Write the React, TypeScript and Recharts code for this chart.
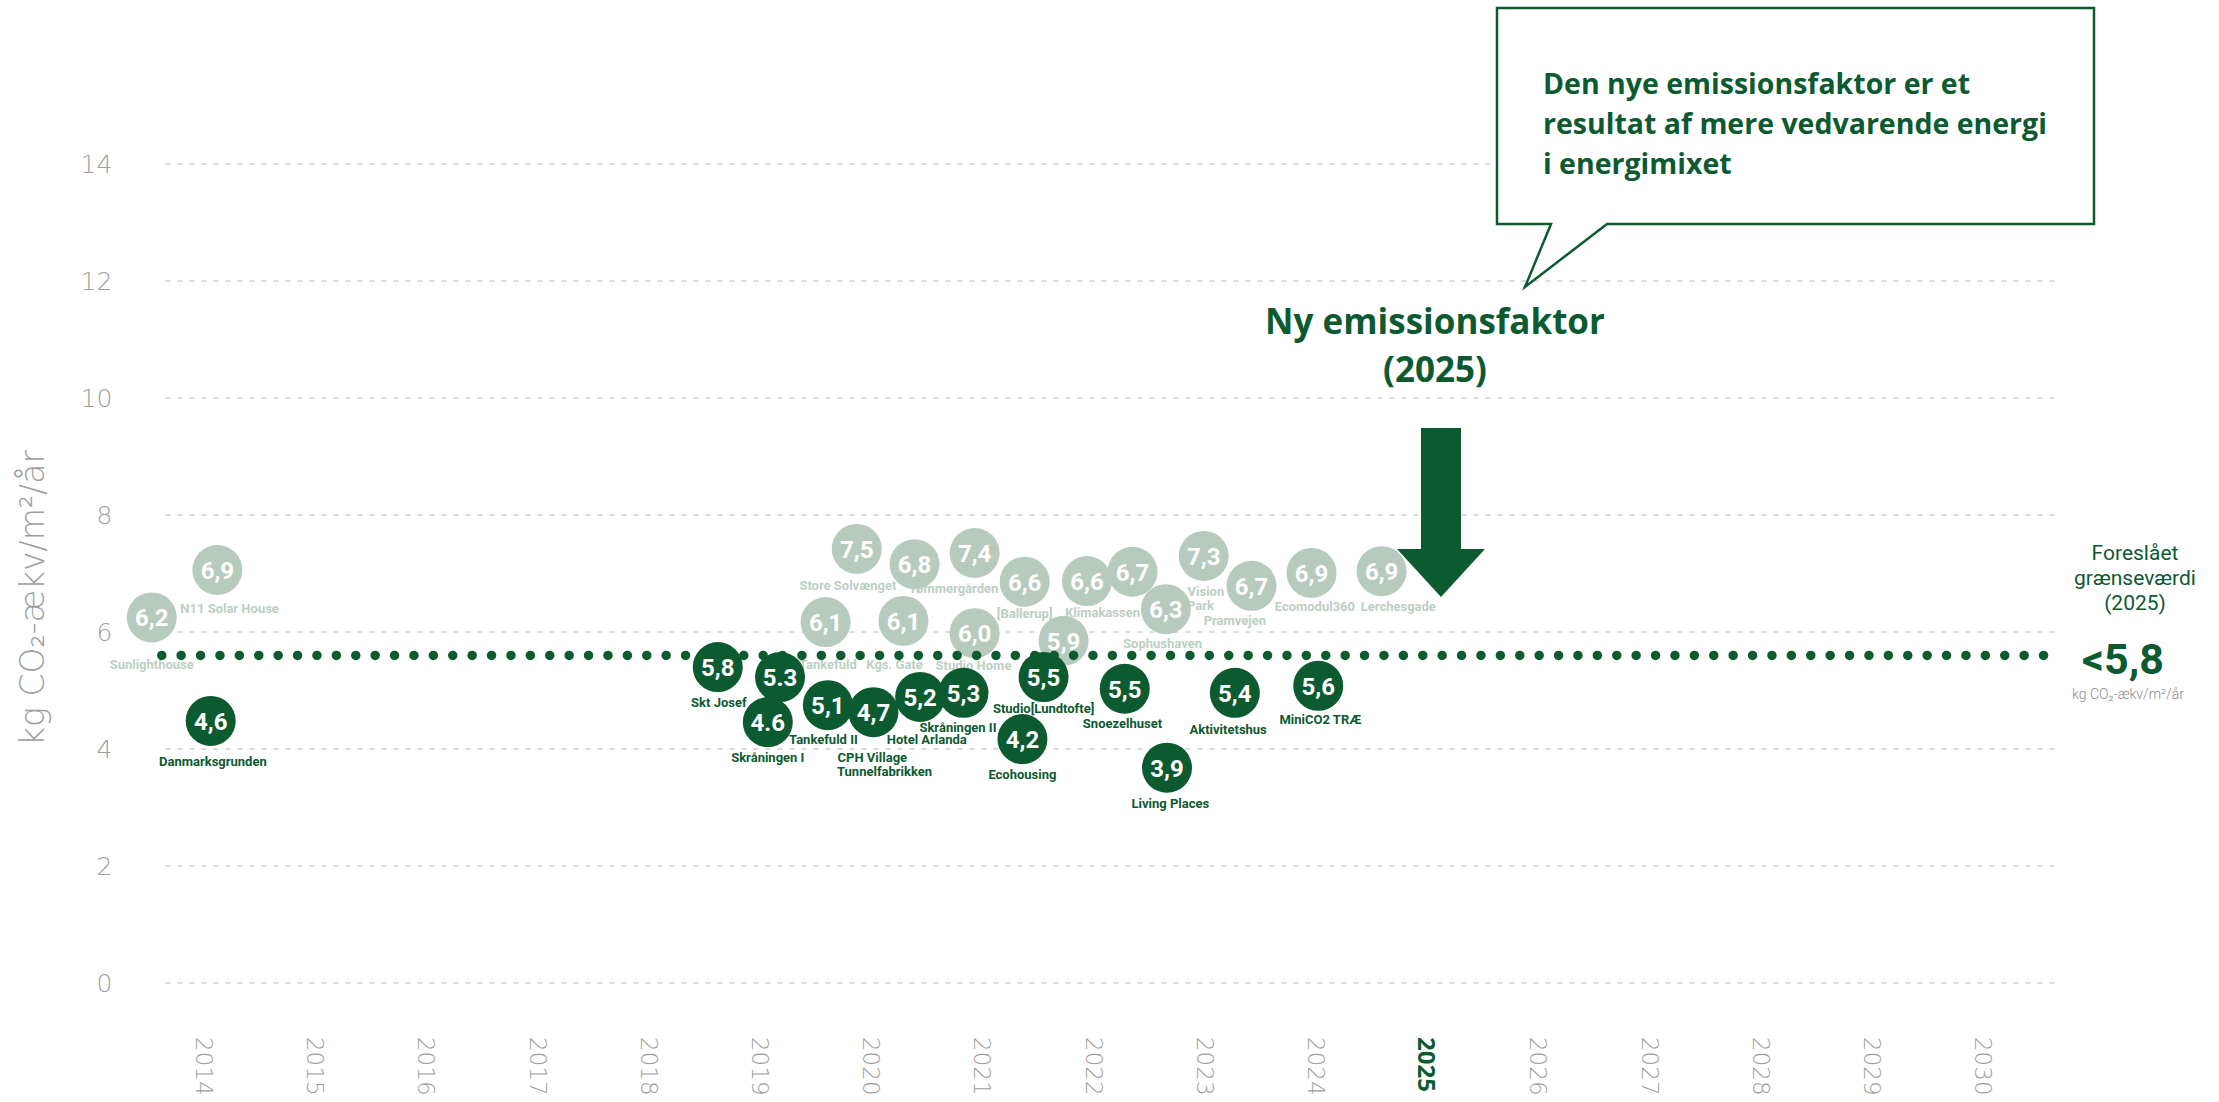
import React from 'react';
import { ScatterChart, Scatter, XAxis, YAxis, CartesianGrid } from 'recharts';

// ---------- data ----------
const years = [2014, 2015, 2016, 2017, 2018, 2019, 2020, 2021, 2022, 2023, 2024, 2025, 2026, 2027, 2028, 2029, 2030];
const yTicks = [0, 2, 4, 6, 8, 10, 12, 14];
const highlightYear = 2025;

// projects above the proposed limit (pale circles): printed value + plotted position
const lightProjects = [
  { shown: '6,2', x: 2013.53, y: 6.25 },
  { shown: '6,9', x: 2014.12, y: 7.06 },
  { shown: '7,5', x: 2019.87, y: 7.42 },
  { shown: '6,8', x: 2020.39, y: 7.16 },
  { shown: '7,4', x: 2020.93, y: 7.35 },
  { shown: '6,1', x: 2019.59, y: 6.17 },
  { shown: '6,1', x: 2020.29, y: 6.19 },
  { shown: '6,0', x: 2020.93, y: 5.98 },
  { shown: '6,6', x: 2021.38, y: 6.86 },
  { shown: '5,9', x: 2021.73, y: 5.85 },
  { shown: '6,6', x: 2021.94, y: 6.87 },
  { shown: '6,7', x: 2022.35, y: 7.03 },
  { shown: '6,3', x: 2022.65, y: 6.39 },
  { shown: '7,3', x: 2022.99, y: 7.3 },
  { shown: '6,7', x: 2023.42, y: 6.79 },
  { shown: '6,9', x: 2023.96, y: 7.01 },
  { shown: '6,9', x: 2024.59, y: 7.04 },
];

const lightLabels = [
  { text: 'Sunlighthouse', x: 2013.53, y: 5.45 },
  { text: 'N11 Solar House', x: 2014.23, y: 6.41 },
  { text: 'Store Solvænget', x: 2019.79, y: 6.8 },
  { text: 'Tømmergården', x: 2020.74, y: 6.74 },
  { text: 'Tankefuld', x: 2019.61, y: 5.45 },
  { text: 'Kgs. Gate', x: 2020.21, y: 5.45 },
  { text: 'Studio Home', x: 2020.92, y: 5.42 },
  { text: '[Ballerup]', x: 2021.38, y: 6.31 },
  { text: 'Klimakassen', x: 2022.08, y: 6.33 },
  { text: 'Sophushaven', x: 2022.62, y: 5.8 },
  { text: 'Vision', x: 2023.01, y: 6.7 },
  { text: 'Park', x: 2022.96, y: 6.46 },
  { text: 'Pramvejen', x: 2023.27, y: 6.19 },
  { text: 'Ecomodul360', x: 2023.99, y: 6.44 },
  { text: 'Lerchesgade', x: 2024.74, y: 6.44 },
];

// projects below the proposed limit (dark circles)
const darkProjects = [
  { shown: '4,6', x: 2014.06, y: 4.48 },
  { shown: '5,8', x: 2018.62, y: 5.4 },
  { shown: '5.3', x: 2019.18, y: 5.23 },
  { shown: '4.6', x: 2019.07, y: 4.46 },
  { shown: '5,1', x: 2019.61, y: 4.75 },
  { shown: '4,7', x: 2020.02, y: 4.63 },
  { shown: '5,2', x: 2020.44, y: 4.89 },
  { shown: '5,3', x: 2020.83, y: 4.96 },
  { shown: '5,5', x: 2021.55, y: 5.23 },
  { shown: '4,2', x: 2021.36, y: 4.17 },
  { shown: '5,5', x: 2022.28, y: 5.03 },
  { shown: '3,9', x: 2022.66, y: 3.68 },
  { shown: '5,4', x: 2023.27, y: 4.96 },
  { shown: '5,6', x: 2024.02, y: 5.08 },
];

const darkLabels = [
  { text: 'Danmarksgrunden', x: 2014.08, y: 3.78 },
  { text: 'Skt Josef', x: 2018.63, y: 4.8 },
  { text: 'Skråningen I', x: 2019.07, y: 3.85 },
  { text: 'Tankefuld II', x: 2019.57, y: 4.17 },
  { text: 'CPH Village', x: 2020.01, y: 3.86 },
  { text: 'Tunnelfabrikken', x: 2020.12, y: 3.62 },
  { text: 'Hotel Arlanda', x: 2020.5, y: 4.17 },
  { text: 'Skråningen II', x: 2020.78, y: 4.36 },
  { text: 'Studio[Lundtofte]', x: 2021.55, y: 4.7 },
  { text: 'Ecohousing', x: 2021.36, y: 3.56 },
  { text: 'Snoezelhuset', x: 2022.26, y: 4.43 },
  { text: 'Living Places', x: 2022.69, y: 3.06 },
  { text: 'Aktivitetshus', x: 2023.21, y: 4.34 },
  { text: 'MiniCO2 TRÆ', x: 2024.04, y: 4.5 },
];

// proposed limit line (drawn position) and its printed value
const limitLine = [
  { x: 2013.62, y: 5.6 },
  { x: 2030.71, y: 5.6 },
];
const limitText = '<5,8';

const yAxisTitle = 'kg CO₂-ækv/m²/år';
const calloutLines = ['Den nye emissionsfaktor er et', 'resultat af mere vedvarende energi', 'i energimixet'];
const arrowTitle = ['Ny emissionsfaktor', '(2025)'];
const limitTitle = ['Foreslået', 'grænseværdi', '(2025)'];

// ---------- styling ----------
const GREEN = '#0c5a30';
const PALE = '#b6cbbe';
const PALE_TEXT = '#bccfc3';
const GREY = '#9d9d9d';
const GRID = '#cfcfcf';
const FONT = "Roboto, 'Open Sans', Arial, sans-serif";
const HEAD_FONT = "'Open Sans', Roboto, Arial, sans-serif";
const THIN_FONT = "'DejaVu Sans', 'Open Sans', sans-serif";

const W = 2219;
const H = 1102;

const bubble = (fill: string) => (props: any) => {
  const { cx, cy, payload } = props;
  if (cx == null || cy == null) return <g />;
  return (
    <g>
      <circle cx={cx} cy={cy} r={25} fill={fill} />
      <text
        x={cx}
        y={cy + 1}
        textAnchor="middle"
        dominantBaseline="central"
        fill="#ffffff"
        fontSize={24}
        fontWeight={700}
        fontFamily={FONT}
      >
        {payload.shown}
      </text>
    </g>
  );
};

const labelShape = (color: string) => (props: any) => {
  const { cx, cy, payload } = props;
  if (cx == null || cy == null) return <g />;
  return (
    <text
      x={cx}
      y={cy}
      textAnchor="middle"
      dominantBaseline="central"
      fill={color}
      fontSize={13}
      fontWeight={700}
      fontFamily={FONT}
    >
      {payload.text}
    </text>
  );
};

const noShape = () => <g />;

const XTick = (props: any) => {
  const { x, y, payload } = props;
  const hl = payload.value === highlightYear;
  const ty = y + 54;
  return (
    <text
      x={x}
      y={ty}
      transform={`rotate(90, ${x}, ${ty})`}
      textAnchor="start"
      dominantBaseline="central"
      fontSize={hl ? 24 : 23}
      fontWeight={hl ? 700 : 200}
      fill={hl ? GREEN : GREY}
      fontFamily={hl ? HEAD_FONT : THIN_FONT}
    >
      {payload.value}
    </text>
  );
};

const YTick = (props: any) => {
  const { x, y, payload } = props;
  return (
    <text
      x={x}
      y={y}
      textAnchor="end"
      dominantBaseline="central"
      fontSize={25}
      fontWeight={200}
      fill={GREY}
      fontFamily={THIN_FONT}
    >
      {payload.value}
    </text>
  );
};

const GRID_LEFT_INSET = 28;
const GRID_RIGHT_INSET = 34;

const gridLine = (props: any) => {
  const { x1, x2, y1, y2, index } = props;
  return (
    <line
      key={`g-${index}-${y1}`}
      x1={x1 + GRID_LEFT_INSET}
      x2={x2 - GRID_RIGHT_INSET}
      y1={y1}
      y2={y2}
      stroke={GRID}
      strokeWidth={1.5}
      strokeDasharray="5 7"
    />
  );
};

const YTitle = (props: any) => {
  const vb = props.viewBox || { x: 37, y: 164, width: 100, height: 819 };
  const cx = vb.x - 5;
  const cy = 598;
  return (
    <text
      x={cx}
      y={cy}
      transform={`rotate(-90, ${cx}, ${cy})`}
      textAnchor="middle"
      dominantBaseline="central"
      fontSize={33}
      fontWeight={200}
      fill={GREY}
      fontFamily={THIN_FONT}
    >
      {yAxisTitle}
    </text>
  );
};

const Annotations = () => (
  <svg
    width={W}
    height={H}
    style={{ position: 'absolute', left: 0, top: 0, pointerEvents: 'none' }}
  >
    {/* callout box */}
    <path
      d="M1497,8 H2094 V224 H1607 L1525,287 L1551,224 H1497 Z"
      fill="#ffffff"
      stroke={GREEN}
      strokeWidth={2.5}
      strokeLinejoin="miter"
    />
    {calloutLines.map((t, i) => (
      <text
        key={t}
        x={1543}
        y={83 + i * 40}
        dominantBaseline="central"
        fontSize={28.5}
        fontWeight={700}
        fill={GREEN}
        fontFamily={HEAD_FONT}
      >
        {t}
      </text>
    ))}
    {/* arrow title */}
    {arrowTitle.map((t, i) => (
      <text
        key={t}
        x={1435}
        y={320 + i * 48}
        textAnchor="middle"
        dominantBaseline="central"
        fontSize={35}
        fontWeight={700}
        fill={GREEN}
        fontFamily={HEAD_FONT}
      >
        {t}
      </text>
    ))}
    {/* arrow */}
    <rect x={1421} y={428} width={40} height={122} fill={GREEN} />
    <polygon points="1397,549 1485,549 1441,597" fill={GREEN} />
    {/* limit annotation */}
    {limitTitle.map((t, i) => (
      <text
        key={t + i}
        x={2135}
        y={553 + i * 25}
        textAnchor="middle"
        dominantBaseline="central"
        fontSize={21}
        fontWeight={400}
        fill={GREEN}
        fontFamily={FONT}
      >
        {t}
      </text>
    ))}
    <text
      x={2123}
      y={659}
      textAnchor="middle"
      dominantBaseline="central"
      fontSize={43}
      fontWeight={700}
      fill={GREEN}
      fontFamily={FONT}
    >
      {limitText}
    </text>
    <text
      x={2128}
      y={694}
      textAnchor="middle"
      dominantBaseline="central"
      fontSize={14}
      fontWeight={300}
      fill={'#8a8a8a'}
      fontFamily={FONT}
    >
      {yAxisTitle}
    </text>
  </svg>
);

export default function App() {
  return (
    <div
      style={{
        position: 'absolute',
        left: 0,
        top: 0,
        width: W,
        height: H,
        background: '#ffffff',
        overflow: 'hidden',
      }}
    >
      <ScatterChart
        width={W}
        height={H}
        margin={{ top: 164, right: 124.6, bottom: 19, left: 37.3 }}
      >
        <CartesianGrid vertical={false} horizontal={gridLine} />
        <XAxis
          type="number"
          dataKey="x"
          domain={[2013.4, 2031]}
          ticks={years}
          interval={0}
          axisLine={false}
          tickLine={false}
          tickSize={0}
          tickMargin={0}
          height={100}
          tick={<XTick />}
        />
        <YAxis
          type="number"
          dataKey="y"
          domain={[0, 14]}
          ticks={yTicks}
          interval={0}
          axisLine={false}
          tickLine={false}
          tickSize={0}
          tickMargin={25}
          width={100}
          tick={<YTick />}
          label={<YTitle />}
        />
        <Scatter data={lightLabels} shape={labelShape(PALE_TEXT)} isAnimationActive={false} />
        <Scatter data={lightProjects} shape={bubble(PALE)} isAnimationActive={false} />
        <Scatter
          data={limitLine}
          shape={noShape}
          line={{ stroke: GREEN, strokeWidth: 9.5, strokeDasharray: '0 19.4', strokeLinecap: 'round' }}
          isAnimationActive={false}
        />
        <Scatter data={darkProjects} shape={bubble(GREEN)} isAnimationActive={false} />
        <Scatter data={darkLabels} shape={labelShape(GREEN)} isAnimationActive={false} />
      </ScatterChart>
      <Annotations />
    </div>
  );
}
